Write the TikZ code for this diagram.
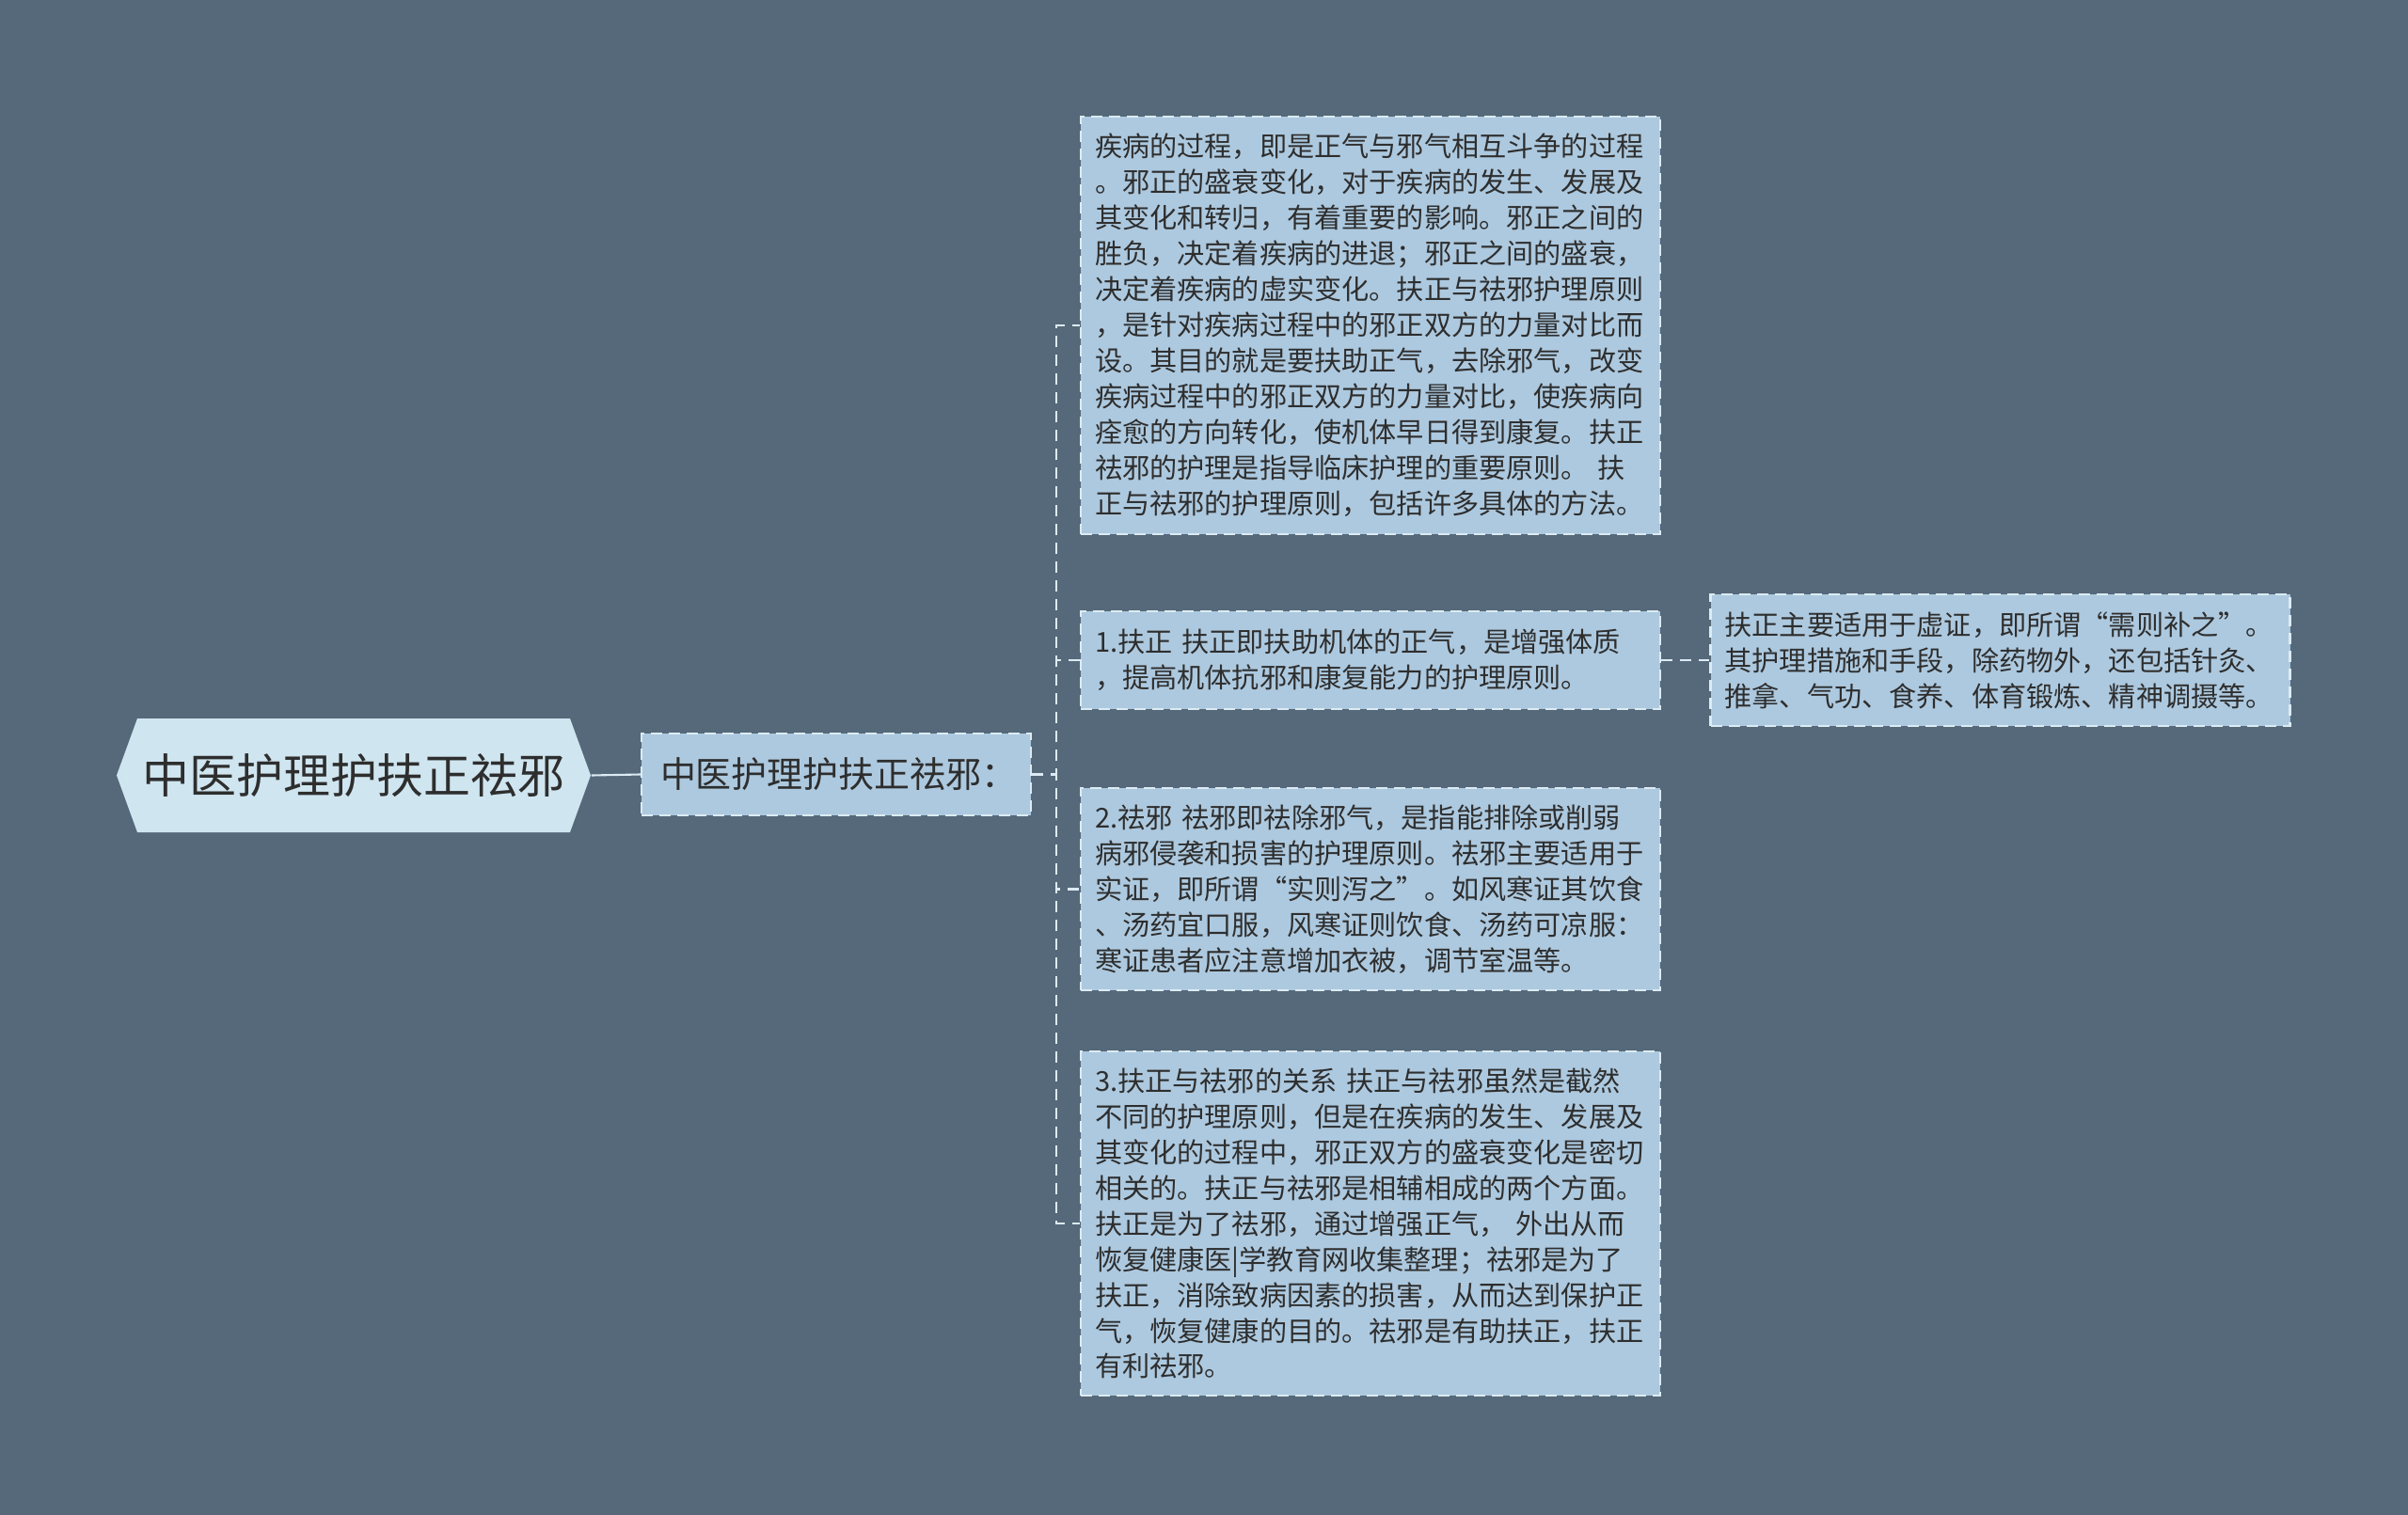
\documentclass[tikz,border=0pt]{standalone}
\usepackage{fontspec}
\setmainfont{Noto Sans CJK SC}
\usetikzlibrary{shapes.symbols}
\definecolor{bgcol}{HTML}{55697A}
\definecolor{rootcol}{HTML}{CFE5F0}
\definecolor{boxcol}{HTML}{ADC9DF}
\definecolor{txtcol}{HTML}{2E2E2E}
\definecolor{linecol}{HTML}{DCEBF3}
\begin{document}
\begin{tikzpicture}[
    rootnode/.style={shape=signal, signal to=west and east, signal pointer angle=140,
        fill=rootcol, text=txtcol, minimum width=5.04cm, minimum height=1.21cm,
        inner sep=0pt, font=\fontsize{14.2}{17}\selectfont},
    topic/.style={fill=boxcol, draw=linecol, line width=0.6pt, dash pattern=on 0.12cm off 0.07cm,
        text=txtcol, text width=3.74cm, inner xsep=0.2cm, align=left, minimum height=0.87cm,
        inner ysep=0pt, font=\fontsize{10.8}{13}\selectfont},
    textbox/.style={fill=boxcol, draw=linecol, line width=0.6pt, dash pattern=on 0.12cm off 0.07cm,
        text=txtcol, text width=5.86cm, inner xsep=0.15cm, inner ysep=0pt, align=left,
        font=\fontsize{8.3}{10.8}\selectfont},
    link/.style={draw=linecol, line width=0.6pt, dash pattern=on 0.12cm off 0.08cm}]
    \fill[bgcol](0,0) rectangle (25.6,-16.11);
    \node[rootnode](root) at (3.76,-8.245) {中医护理护扶正祛邪};
    \node[topic](main) at (8.89,-8.235) {中医护理护扶正祛邪：};
    \node[textbox, minimum height=4.44cm](boxA) at (14.57,-3.46) {疾病的过程，即是正气与邪气相互斗争的过程\\
    。邪正的盛衰变化，对于疾病的发生、发展及\\
    其变化和转归，有着重要的影响。邪正之间的\\
    胜负，决定着疾病的进退；邪正之间的盛衰，\\
    决定着疾病的虚实变化。扶正与祛邪护理原则\\
    ，是针对疾病过程中的邪正双方的力量对比而\\
    设。其目的就是要扶助正气，去除邪气，改变\\
    疾病过程中的邪正双方的力量对比，使疾病向\\
    痊愈的方向转化，使机体早日得到康复。扶正\\
    祛邪的护理是指导临床护理的重要原则。 扶\\
    正与祛邪的护理原则，包括许多具体的方法。};
    \node[textbox, minimum height=1.04cm](boxB) at (14.57,-7.02) {1.扶正 扶正即扶助机体的正气，是增强体质\\
    ，提高机体抗邪和康复能力的护理原则。};
    \node[textbox, minimum height=2.15cm](boxC) at (14.57,-9.455) {2.祛邪 祛邪即祛除邪气，是指能排除或削弱\\
    病邪侵袭和损害的护理原则。祛邪主要适用于\\
    实证，即所谓“实则泻之”。如风寒证其饮食\\
    、汤药宜口服，风寒证则饮食、汤药可凉服：\\
    寒证患者应注意增加衣被，调节室温等。};
    \node[textbox, minimum height=3.66cm](boxD) at (14.57,-13.01) {3.扶正与祛邪的关系 扶正与祛邪虽然是截然\\
    不同的护理原则，但是在疾病的发生、发展及\\
    其变化的过程中，邪正双方的盛衰变化是密切\\
    相关的。扶正与祛邪是相辅相成的两个方面。\\
    扶正是为了祛邪，通过增强正气， 外出从而\\
    恢复健康医|学教育网收集整理；祛邪是为了\\
    扶正，消除致病因素的损害，从而达到保护正\\
    气，恢复健康的目的。祛邪是有助扶正，扶正\\
    有利祛邪。};
    \node[textbox, minimum height=1.40cm](boxE) at (21.265,-7.02) {扶正主要适用于虚证，即所谓“需则补之”。\\
    其护理措施和手段，除药物外，还包括针灸、\\
    推拿、气功、食养、体育锻炼、精神调摄等。};
    \coordinate (trunk) at (11.23,-8.235);
    \draw[linecol, line width=0.6pt](root.east)--(main.west);
    \foreach \b in {boxA,boxB,boxC,boxD}
        \draw[link](main.east)--(trunk)|-(\b.west);
    \draw[link](boxB.east)--(boxE.west);
\end{tikzpicture}
\end{document}
